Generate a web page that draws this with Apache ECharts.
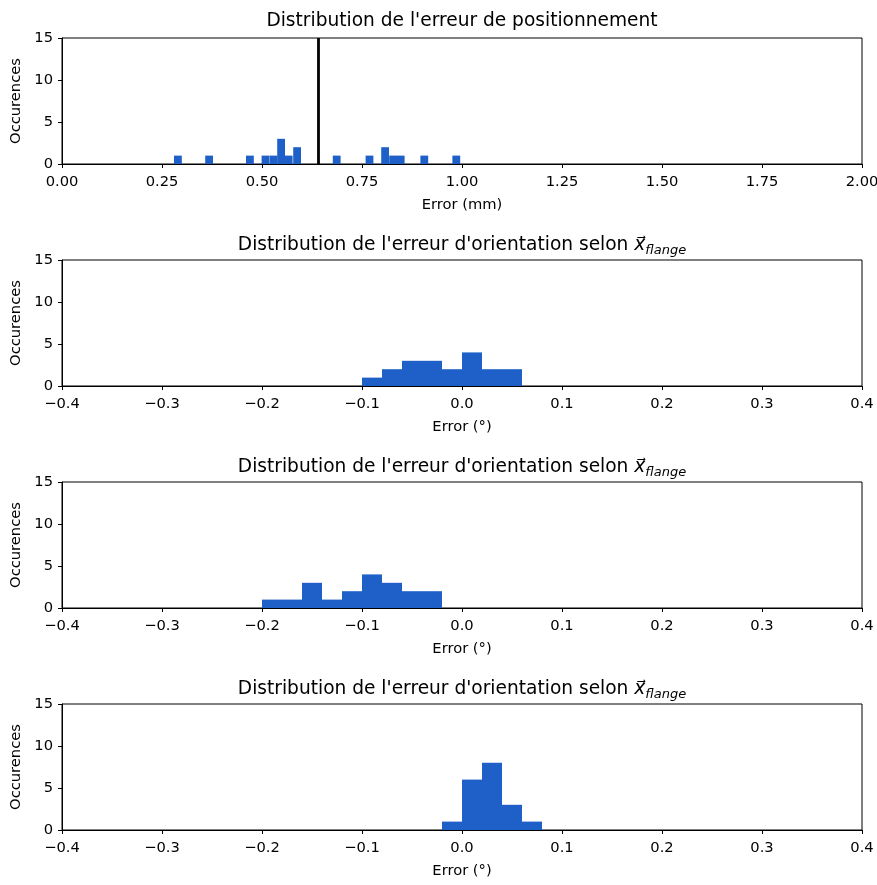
<!DOCTYPE html>
<html><head><meta charset="utf-8">
<script src="https://cdn.jsdelivr.net/npm/echarts@6/dist/echarts.min.js"></script>
<style>html,body{margin:0;padding:0;background:#fff}#c{width:877px;height:885px}</style>
</head><body><div id="c"></div>
<script>
// ---- data ----
const posBinStart = [0.28,0.358,0.46,0.499,0.519,0.538,0.557,0.578,0.677,0.759,0.798,0.818,0.837,0.896,0.976];
const posCounts   = [1,1,1,1,1,3,1,2,1,1,2,1,1,1,1];
const posBinWidth = 0.0195;
const posMean = 0.643;

const orientBinWidth = 0.02;
const o1BinStart = [-0.10,-0.08,-0.06,-0.04,-0.02,0.00,0.02,0.04];
const o1Counts   = [1,2,3,3,2,4,2,2];
const o2BinStart = [-0.20,-0.18,-0.16,-0.14,-0.12,-0.10,-0.08,-0.06,-0.04];
const o2Counts   = [1,1,3,1,2,4,3,2,2];
const o3BinStart = [-0.02,0.00,0.02,0.04,0.06];
const o3Counts   = [1,6,8,3,1];

const titles = [
  "Distribution de l'erreur de positionnement",
  "Distribution de l'erreur d'orientation selon {v|x\u20D7}{s|flange}",
  "Distribution de l'erreur d'orientation selon {v|x\u20D7}{s|flange}",
  "Distribution de l'erreur d'orientation selon {v|x\u20D7}{s|flange}"
];
const xNames = ['Error (mm)','Error (°)','Error (°)','Error (°)'];
const yName = 'Occurences';

// ---- build ----
const BLUE = '#1f60c8';
const FONT = 'DejaVu Sans';
const FS = 14.7;
const TFS = 18.6;
const tops = [38,260,482,704];
const H = 126;
const chart = echarts.init(document.getElementById('c'));

function toBins(starts, counts, w){ return starts.map((s,i)=>[s, s+w, counts[i]]); }
const hists = [
  toBins(posBinStart,posCounts,posBinWidth),
  toBins(o1BinStart,o1Counts,orientBinWidth),
  toBins(o2BinStart,o2Counts,orientBinWidth),
  toBins(o3BinStart,o3Counts,orientBinWidth)
];

function fmtX(v, dec){
  const s = v.toFixed(dec);
  return s.replace('-', '\u2212');
}

const option = {
  animation:false,
  backgroundColor:'#fff',
  title: titles.map((t,i)=>({
    text:t, left:457, top:tops[i]-31, textAlign:'center',
    textStyle:{fontFamily:FONT,fontSize:TFS,fontWeight:'normal',color:'#000',
      rich:{
        v:{fontFamily:FONT,fontSize:TFS,fontStyle:'italic',color:'#000'},
        s:{fontFamily:FONT,fontSize:13,fontStyle:'italic',color:'#000',padding:[10,0,0,0]}
      }}
  })),
  grid: tops.map(t=>({left:62,width:800,top:t,height:H,show:true,borderColor:'#000',borderWidth:1,
    containLabel:false, outerBoundsMode:'none'})),
  xAxis: tops.map((t,i)=>({
    gridIndex:i, type:'value',
    min: i===0?0:-0.4, max: i===0?2:0.4, interval: i===0?0.25:0.1,
    name:xNames[i], nameLocation:'middle', nameGap:34,
    nameTextStyle:{fontFamily:FONT,fontSize:FS,color:'#000'},
    axisLine:{show:true,onZero:false,lineStyle:{color:'#000',width:1}},
    axisTick:{show:true,length:4,lineStyle:{color:'#000'}},
    axisLabel:{fontFamily:FONT,fontSize:FS,color:'#000',margin:11,
      formatter:(v)=>fmtX(v, i===0?2:1)},
    splitLine:{show:false}
  })),
  yAxis: tops.map((t,i)=>({
    gridIndex:i, type:'value', min:0, max:15, interval:5,
    name:yName, nameLocation:'middle', nameGap:35,
    nameTextStyle:{fontFamily:FONT,fontSize:FS,color:'#000'},
    axisLine:{show:true,onZero:false,lineStyle:{color:'#000',width:1}},
    axisTick:{show:true,length:4,lineStyle:{color:'#000'}},
    axisLabel:{fontFamily:FONT,fontSize:FS,color:'#000',margin:9},
    splitLine:{show:false}
  })),
  series: hists.map((d,i)=>{
    const s = {
      type:'custom', xAxisIndex:i, yAxisIndex:i, data:d,
      renderItem:(params, api)=>{
        const p0 = api.coord([api.value(0), api.value(2)]);
        const p1 = api.coord([api.value(1), 0]);
        return {type:'rect', shape:{x:p0[0], y:p0[1], width:p1[0]-p0[0], height:p1[1]-p0[1]},
          style:{fill:BLUE, stroke:null}};
      },
      encode:{x:[0,1], y:2}
    };
    if(i===0){
      s.markLine = {silent:true, symbol:'none', label:{show:false},
        lineStyle:{color:'#000',width:2.8,type:'solid'},
        data:[{xAxis:posMean}]};
    }
    return s;
  })
};
chart.setOption(option);
</script></body></html>
